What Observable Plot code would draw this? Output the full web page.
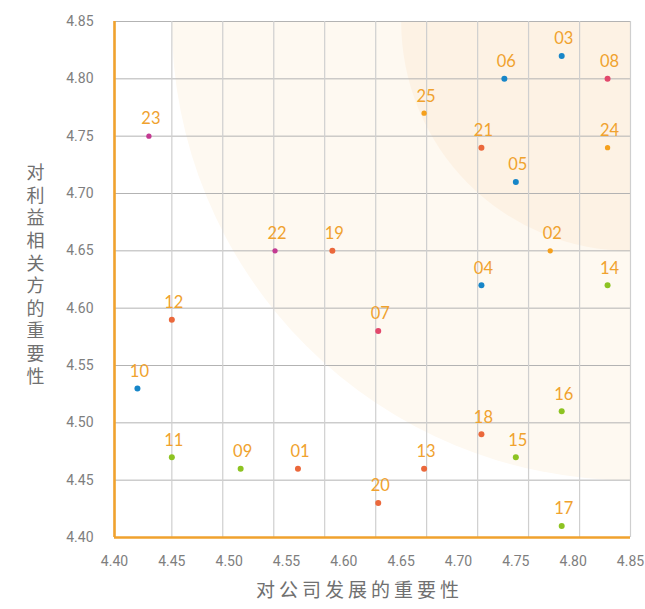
<!DOCTYPE html>
<html>
<head>
<meta charset="utf-8">
<script src="https://cdn.jsdelivr.net/npm/d3@7"></script>
<script src="https://cdn.jsdelivr.net/npm/@observablehq/plot@0.6"></script>
<style>
  html, body { margin: 0; padding: 0; background: #fff; }
  #chart { width: 645px; height: 609px; }
</style>
</head>
<body>
<div id="chart"></div>
<script>
// ---- data ----
const ids    = ["01","02","03","04","05","06","07","08","09","10","11","12","13","14","15","16","17","18","19","20","21","22","23","24","25"];
const companyImportance = [4.56,4.78,4.79,4.72,4.75,4.74,4.63,4.83,4.51,4.42,4.45,4.45,4.67,4.83,4.75,4.79,4.79,4.72,4.59,4.63,4.72,4.54,4.43,4.83,4.67];
const stakeholderImportance = [4.46,4.65,4.82,4.62,4.71,4.80,4.58,4.80,4.46,4.53,4.47,4.59,4.46,4.62,4.47,4.51,4.41,4.49,4.65,4.43,4.74,4.65,4.75,4.74,4.77];
const groups = ["D","F","A","A","A","A","B","B","E","A","E","D","D","E","E","E","E","D","D","D","D","C","C","F","F"];
const groupNames  = ["A","B","C","D","E","F"];
const groupColors = ["#1786c8","#e2486c","#c33a92","#eb683b","#8dc322","#f5a01c"];
const xTicks = [4.40,4.45,4.50,4.55,4.60,4.65,4.70,4.75,4.80,4.85];
const yTicks = [4.40,4.45,4.50,4.55,4.60,4.65,4.70,4.75,4.80,4.85];
const xGrid  = [4.40,4.45,4.4944,4.5389,4.5833,4.6278,4.6722,4.7167,4.7611,4.8056,4.85];
const zoneRadii = [0.40, 0.20];           // background zones around the top-right corner
const zoneColors = ["#fef9f1", "#fdf2e4"];
const xLabel = "对公司发展的重要性";
const yLabel = "对利益相关方的重要性";

const data = ids.map((id, i) => ({
  id, x: companyImportance[i], y: stakeholderImportance[i], group: groups[i]
}));

// ---- layout ----
const W = 645, H = 609;
const mL = 114, mR = 15, mT = 21, mB = 72;
const plotW = W - mL - mR;
const xSpan = 4.85 - 4.40;
const corner = [{x: 4.85, y: 4.85}];
const small = new Set(["C","F"]);
const orange = "#f0a22e";
const cjk = "'Noto Sans CJK SC', 'Noto Sans', sans-serif";

const chart = Plot.plot({
  width: W, height: H,
  marginLeft: mL, marginRight: mR, marginTop: mT, marginBottom: mB,
  style: {fontFamily: "Roboto, 'DejaVu Sans', sans-serif", fontSize: "14px", color: "#7e7e7e", background: "#fff"},
  x: {domain: [4.40, 4.85], ticks: xTicks, tickFormat: d3.format(".2f"), tickSize: 0, tickPadding: 19, label: null},
  y: {domain: [4.40, 4.85], ticks: yTicks, tickFormat: d3.format(".2f"), tickSize: 0, tickPadding: 21, label: null},
  color: {domain: groupNames, range: groupColors},
  marks: [
    ...zoneRadii.map((rad, i) => Plot.dot(corner, {x: "x", y: "y", r: plotW * rad / xSpan, fill: zoneColors[i], stroke: null, clip: true})),
    Plot.ruleY(yTicks, {stroke: "#b3b3b3", strokeWidth: 1}),
    Plot.ruleX(xGrid, {stroke: "#cfcfcf", strokeWidth: 1.2}),
    Plot.ruleX([4.40], {stroke: orange, strokeWidth: 2.6}),
    Plot.ruleY([4.40], {stroke: orange, strokeWidth: 2.6}),
    Plot.dot(data, {x: "x", y: "y", fill: "group", r: d => small.has(d.group) ? 2.4 : 3.1, stroke: null}),
    Plot.text(data, {x: "x", y: "y", text: "id", dy: -17, dx: 2, fill: orange, fontSize: 16.5, fontFamily: "Lato, 'Open Sans', sans-serif"}),
    Plot.text([xLabel], {text: d => d, frameAnchor: "bottom", dy: 59, dx: -13, fill: "#707070", fontSize: 19, fontFamily: cjk}),
    Plot.text([yLabel], {text: d => d, frameAnchor: "left", textAnchor: "middle", dx: -79, dy: -9, fill: "#707070", fontSize: 18, fontFamily: cjk})
  ]
});

const svg = d3.select(chart);
svg.selectAll("text").filter(function() { return this.textContent === xLabel; })
  .attr("letter-spacing", 4);
svg.selectAll("text").filter(function() { return this.textContent === yLabel; })
  .attr("writing-mode", "vertical-rl")
  .attr("dy", null)
  .attr("letter-spacing", 4.6)
  .style("text-orientation", "upright");

document.getElementById("chart").appendChild(chart);
</script>
</body>
</html>
